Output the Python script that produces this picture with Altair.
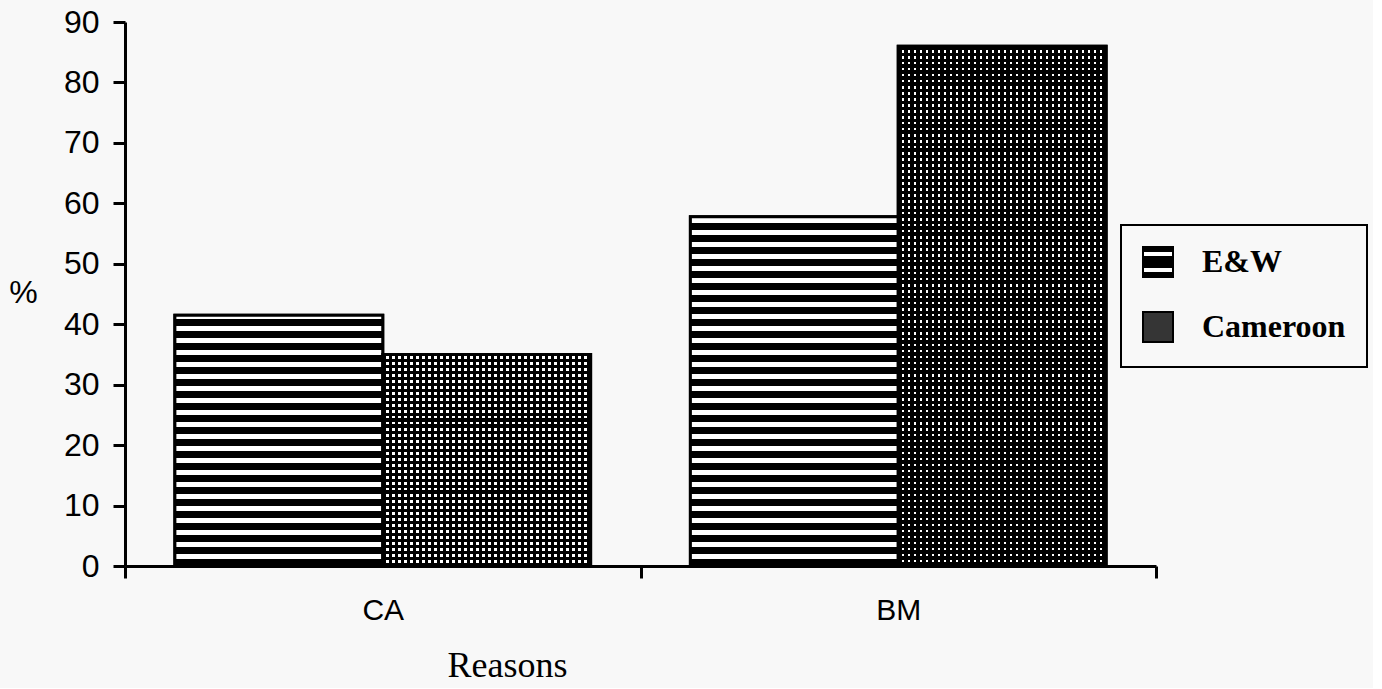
import altair as alt

# ---- data ----
categories = ["CA", "BM"]
series = ["E&W", "Cameroon"]
ew_values = [41.5, 57.8]
cameroon_values = [35.0, 86.0]
y_ticks = [0, 10, 20, 30, 40, 50, 60, 70, 80, 90]

# ---- layout constants ----
PLOT_W = 1031
PLOT_H = 544
Y_MAX = 90
OFFSET_OUTER = 0.24
BAR_W = (PLOT_W / len(categories)) / (len(series) + 2 * OFFSET_OUTER)


def stripes(length_px, period, dark, vertical, dark_col, light_col):
    stops = []
    pos = 0.0
    while pos < length_px:
        a = pos / length_px
        b = min((pos + dark) / length_px, 1.0)
        c = min((pos + period) / length_px, 1.0)
        stops += [
            {"offset": a, "color": dark_col},
            {"offset": b, "color": dark_col},
            {"offset": b, "color": light_col},
            {"offset": c, "color": light_col},
        ]
        pos += period
    if vertical:
        coords = {"x1": 0, "y1": 1, "x2": 0, "y2": 0}
    else:
        coords = {"x1": 0, "y1": 0, "x2": 1, "y2": 0}
    return dict(gradient="linear", stops=stops, **coords)


rows = []
for i, cat in enumerate(categories):
    for s, vals in zip(series, [ew_values, cameroon_values]):
        v = vals[i]
        hpx = v * PLOT_H / Y_MAX
        if s == "E&W":
            g1 = stripes(hpx, 12.0, 7.0, True, "black", "white")
            g2 = "transparent"
        else:
            g1 = stripes(BAR_W, 6.0, 3.5, False, "black", "white")
            g2 = stripes(hpx, 6.0, 3.5, True, "black", "rgba(0,0,0,0)")
        rows.append({"reason": cat, "series": s, "value": v, "g1": g1, "g2": g2})

data = alt.Data(values=rows)

# legend swatches: striped square for E&W, dark square for Cameroon
ew_swatch = (
    "{gradient: 'linear', x1: 0, y1: 0, x2: 0, y2: 1, stops: ["
    "{offset: 0, color: 'black'}, {offset: 0.17, color: 'black'},"
    "{offset: 0.17, color: 'white'}, {offset: 0.3, color: 'white'},"
    "{offset: 0.3, color: 'black'}, {offset: 0.7, color: 'black'},"
    "{offset: 0.7, color: 'white'}, {offset: 0.83, color: 'white'},"
    "{offset: 0.83, color: 'black'}, {offset: 1, color: 'black'}]}"
)
legend_range = [{"expr": ew_swatch}, "#353535"]

x_enc = alt.X(
    "reason:N",
    sort=categories,
    scale=alt.Scale(paddingInner=0, paddingOuter=0),
    axis=alt.Axis(
        title="Reasons",
        labelAngle=0,
        tickBand="extent",
        labelPadding=17,
        labelFontSize=30,
        titleFont="Liberation Serif",
        titleFontSize=36,
        titleFontWeight="normal",
        titleX=382,
        titleY=99,
        titleAlign="center",
        titleBaseline="middle",
    ),
)
xo_enc = alt.XOffset(
    "series:N",
    sort=series,
    scale=alt.Scale(paddingInner=0, paddingOuter=OFFSET_OUTER),
)
y_enc = alt.Y(
    "value:Q",
    stack=None,
    scale=alt.Scale(domain=[0, Y_MAX], nice=False),
    axis=alt.Axis(
        values=y_ticks,
        title="%",
        titleAngle=0,
        titleX=-102,
        titleY=270,
        titleAlign="center",
        titleBaseline="middle",
        titleFont="Liberation Sans",
        titleFontSize=32,
        titleFontWeight="normal",
        labelFontSize=32,
        labelPadding=14,
    ),
)

base_layer = alt.Chart(data).mark_bar(stroke="black", strokeWidth=3).encode(
    x=x_enc,
    xOffset=xo_enc,
    y=y_enc,
    color=alt.Color(
        "series:N",
        sort=series,
        scale=alt.Scale(domain=series, range=legend_range),
        legend=alt.Legend(
            title=None,
            orient="none",
            legendX=996,
            legendY=203,
            padding=21,
            strokeColor="black",
            symbolType="square",
            symbolSize=900,
            symbolStrokeColor="black",
            symbolStrokeWidth=2,
            labelFont="Liberation Serif",
            labelFontSize=32,
            labelFontWeight="bold",
            labelColor="black",
            labelOffset=28,
            rowPadding=27,
        ),
    ),
)

pattern1 = alt.Chart(data).mark_bar().encode(
    x=x_enc, xOffset=xo_enc, y=y_enc, fill=alt.Fill("g1:N", scale=None)
)
pattern2 = alt.Chart(data).mark_bar(stroke="black", strokeWidth=3).encode(
    x=x_enc, xOffset=xo_enc, y=y_enc, fill=alt.Fill("g2:N", scale=None)
)

chart = (
    alt.layer(base_layer, pattern1, pattern2)
    .resolve_scale(fill="independent")
    .properties(
        width=PLOT_W,
        height=PLOT_H,
        background="#f8f8f8",
        padding={"left": 8, "top": 6, "right": 5, "bottom": 5},
    )
    .configure_view(strokeWidth=0)
    .configure_axis(
        grid=False,
        domainColor="black",
        domainWidth=3,
        tickColor="black",
        tickWidth=3,
        tickSize=12,
        labelFont="Liberation Sans",
        labelColor="black",
        titleColor="black",
    )
    .configure_legend(strokeWidth=2)
)

chart.save("out.html", embed_options={"renderer": "svg", "actions": False})
